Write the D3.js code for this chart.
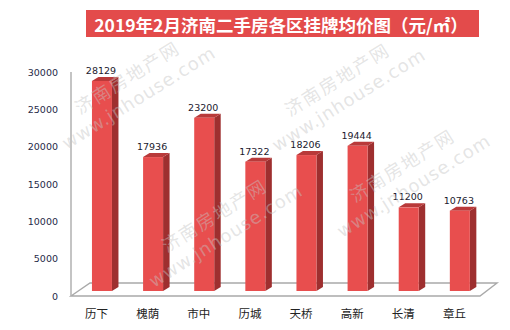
<!DOCTYPE html>
<html>
<head>
<meta charset="utf-8">
<script src="https://cdn.jsdelivr.net/npm/d3@7/dist/d3.min.js"></script>
<style>
  html, body { margin: 0; padding: 0; background: #fff; }
  svg { display: block; }
</style>
</head>
<body>
<svg id="chart" width="510" height="330"></svg>
<script>
const titleText = "2019年2月济南二手房各区挂牌均价图（元/㎡）";
const categories = ["历下", "槐荫", "市中", "历城", "天桥", "高新", "长清", "章丘"];
const values = [28129, 17936, 23200, 17322, 18206, 19444, 11200, 10763];
const yTicks = [0, 5000, 10000, 15000, 20000, 25000, 30000];
const watermarkLines = ["济南房地产网", "www.jnhouse.com"];

const svg = d3.select("#chart");
const W = 510, H = 330;

// geometry (3D-like look)
const floorFront = 296, floorBack = 283;
const plotLeft = 71, plotRight = 480;
const depthX = 19, depthY = 13;
const barBase = 291;
const barW = 20, sideDX = 6.5, sideDY = 4;

const x = d3.scaleBand().domain(categories).range([plotLeft, plotRight]).paddingInner(0).paddingOuter(0);
const y = d3.scaleLinear().domain([0, 30000]).range([barBase, barBase - 224]);

// Title
svg.append("rect").attr("x", 86).attr("y", 10).attr("width", 393).attr("height", 27)
  .attr("fill", "#e34b4b");
svg.append("text").attr("x", 281).attr("y", 24)
  .attr("text-anchor", "middle").attr("dominant-baseline", "central")
  .attr("font-family", "'Noto Sans CJK SC', sans-serif").attr("font-weight", "bold")
  .attr("font-size", 17.5).attr("fill", "#fff").text(titleText);

// floor
svg.append("polygon")
  .attr("points", [[plotLeft, floorFront], [plotLeft + depthX, floorBack], [plotRight + 17, floorBack], [plotRight, floorFront]].map(p => p.join(",")).join(" "))
  .attr("fill", "none").attr("stroke", "#a9a9a9").attr("stroke-width", 1.4);

// vertical axis line
svg.append("line").attr("x1", plotLeft).attr("x2", plotLeft)
  .attr("y1", y(30000) + 5).attr("y2", floorFront)
  .attr("stroke", "#b0b0b0").attr("stroke-width", 1.5);

// y tick labels (front-plane axis, offset from bar plane)
const yAxisG = svg.append("g").attr("transform", "translate(0,5)");
yAxisG.selectAll("text").data(yTicks).join("text")
  .attr("x", 58).attr("y", d => y(d))
  .attr("text-anchor", "end").attr("dominant-baseline", "central")
  .attr("font-family", "'DejaVu Sans', sans-serif").attr("font-size", 9.5)
  .attr("fill", "#1f2a48").text(d => d);

// bars
const data = categories.map((c, i) => ({ c, v: values[i] }));
const bars = svg.append("g").selectAll("g").data(data).join("g");
const fl = d => x(d.c) + x.bandwidth() / 2 - 4.6;
bars.append("polygon") // side
  .attr("points", d => {
    const l = fl(d), r = l + barW, t = y(d.v), b = barBase;
    return [[r, t], [r + sideDX, t - sideDY], [r + sideDX, b - sideDY], [r, b]].map(p => p.join(",")).join(" ");
  }).attr("fill", "#9e2f2f");
bars.append("polygon") // top
  .attr("points", d => {
    const l = fl(d), r = l + barW, t = y(d.v);
    return [[l, t], [l + sideDX, t - sideDY], [r + sideDX, t - sideDY], [r, t]].map(p => p.join(",")).join(" ");
  }).attr("fill", "#b93a3a");
bars.append("rect") // front
  .attr("x", d => fl(d)).attr("y", d => y(d.v))
  .attr("width", barW).attr("height", d => barBase - y(d.v))
  .attr("fill", "#e84e4e");

// value labels
bars.append("text")
  .attr("x", d => fl(d) + barW / 2 - 1).attr("y", d => y(d.v) - 7)
  .attr("text-anchor", "middle")
  .attr("font-family", "'DejaVu Sans', sans-serif").attr("font-size", 9.5)
  .attr("fill", "#1a1a2e").text(d => d.v);

// category labels
svg.append("g").selectAll("text").data(categories).join("text")
  .attr("x", d => x(d) + x.bandwidth() / 2).attr("y", 313)
  .attr("text-anchor", "middle").attr("dominant-baseline", "central")
  .attr("font-family", "'Noto Sans CJK SC', sans-serif").attr("font-size", 11.5)
  .attr("fill", "#222").text(d => d);

// watermarks
const wmPos = [[80, 115], [290, 117], [355, 203], [167, 253]];
const wm = svg.append("g").attr("pointer-events", "none");
wmPos.forEach(([px, py]) => {
  wm.append("text").attr("transform", `translate(${px},${py}) rotate(-32)`)
    .attr("font-family", "'Noto Sans CJK SC', sans-serif").attr("font-size", 18)
    .attr("textLength", 118).attr("lengthAdjust", "spacing")
    .attr("fill", "#c4c4c4").attr("fill-opacity", 0.45).text(watermarkLines[0]);
  wm.append("text").attr("transform", `translate(${px - 13},${py + 35}) rotate(-32)`)
    .attr("font-family", "'DejaVu Sans', sans-serif").attr("font-size", 18)
    .attr("textLength", 176).attr("lengthAdjust", "spacing")
    .attr("fill", "#c4c4c4").attr("fill-opacity", 0.45).text(watermarkLines[1]);
});
</script>
</body>
</html>
